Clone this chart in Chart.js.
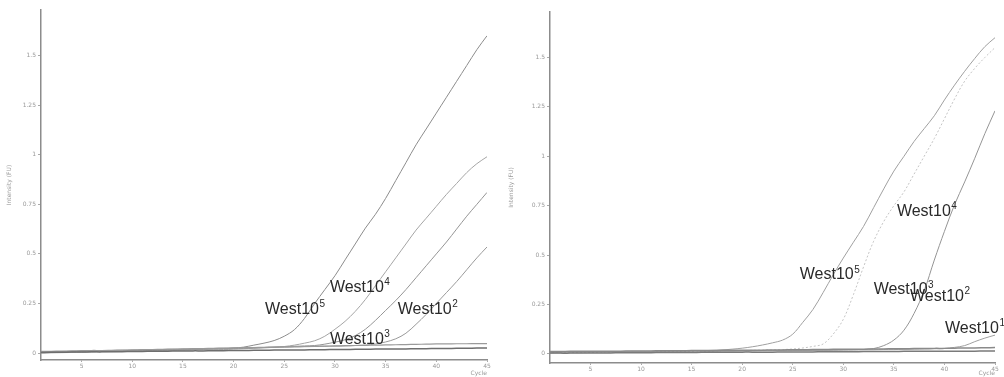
<!DOCTYPE html>
<html>
<head>
<meta charset="utf-8">
<script src="https://cdn.jsdelivr.net/npm/chart.js@4/dist/chart.umd.min.js"></script>
<style>
  html, body { margin: 0; padding: 0; background: #fff; }
  #wrap { position: relative; width: 1004px; height: 377px; overflow: hidden; }
  .panel { position: absolute; top: 0; width: 502px; height: 377px; }
</style>
</head>
<body>
<div id="wrap">
  <div class="panel" style="left:0"><canvas id="leftChart"></canvas></div>
  <div class="panel" style="left:502px"><canvas id="rightChart"></canvas></div>
</div>
<script>
const cycles = [1,2,3,4,5,6,7,8,9,10,11,12,13,14,15,16,17,18,19,20,21,22,23,24,25,26,27,28,29,30,31,32,33,34,35,36,37,38,39,40,41,42,43,44,45];
const xTicks = [5, 10, 15, 20, 25, 30, 35, 40, 45];
const yTicks = [0, 0.25, 0.5, 0.75, 1, 1.25, 1.5];

// left panel
const leftA = [0.002,0.003,0.004,0.005,0.006,0.007,0.008,0.009,0.010,0.011,0.012,0.013,0.014,0.015,0.016,0.017,0.018,0.020,0.022,0.025,0.030,
  0.040,0.050,0.063,0.085,0.118,0.175,0.25,0.32,0.39,0.47,0.55,0.63,0.70,0.78,0.87,0.96,1.05,1.13,1.21,1.29,1.37,1.45,1.53,1.60];
const leftB = [0.000,0.001,0.002,0.003,0.004,0.005,0.006,0.007,0.008,0.009,0.010,0.011,0.012,0.013,0.014,0.015,0.016,0.017,0.018,0.020,
  0.022,0.024,0.026,0.029,0.033,0.040,0.050,0.062,0.085,0.12,0.16,0.21,0.27,0.34,0.41,0.48,0.55,0.62,0.68,0.74,0.80,0.855,0.91,0.955,0.99];
const leftC = [0.004,0.005,0.006,0.007,0.008,0.009,0.010,0.011,0.012,0.013,0.014,0.015,0.016,0.017,0.018,0.019,0.020,0.021,0.022,0.023,0.024,0.026,0.028,0.030,0.032,0.034,0.036,
  0.038,0.045,0.055,0.067,0.088,0.12,0.165,0.215,0.265,0.32,0.38,0.44,0.50,0.56,0.625,0.69,0.75,0.81];
const leftD = [0.006,0.007,0.008,0.009,0.010,0.011,0.012,0.013,0.014,0.015,0.016,0.017,0.018,0.019,0.020,0.021,0.022,0.023,0.024,0.025,0.026,0.027,0.028,0.029,0.030,0.031,0.032,0.033,0.034,0.035,0.036,0.038,
  0.040,0.046,0.056,0.072,0.10,0.145,0.195,0.25,0.305,0.36,0.42,0.48,0.535];
const leftE = [0.008,0.009,0.010,0.011,0.012,0.013,0.013,0.014,0.015,0.016,0.017,0.018,0.019,0.020,0.021,0.022,0.023,0.024,0.025,0.026,
  0.027,0.028,0.029,0.030,0.031,0.032,0.033,0.034,0.035,0.036,0.037,0.038,0.039,0.040,0.041,0.042,0.043,0.044,0.045,0.046,0.046,0.047,0.047,0.048,0.048];
const leftF = [0.003,0.004,0.004,0.005,0.005,0.006,0.006,0.007,0.007,0.008,0.008,0.009,0.009,0.010,0.010,0.011,0.011,0.012,0.012,0.013,
  0.013,0.014,0.014,0.015,0.015,0.016,0.016,0.017,0.017,0.018,0.018,0.019,0.019,0.020,0.020,0.021,0.021,0.022,0.022,0.023,0.023,0.024,0.024,0.025,0.025];

// right panel
const rightA = [0.004,0.005,0.006,0.006,0.007,0.008,0.008,0.009,0.010,0.011,0.011,0.012,0.013,0.014,0.015,0.016,0.018,
  0.020,0.024,0.029,0.036,0.045,0.056,0.07,0.10,0.16,0.225,0.31,0.40,0.485,0.565,0.645,0.74,0.835,0.925,1.0,1.075,1.14,1.205,1.285,1.36,1.43,1.495,1.555,1.60];
const rightB = [0.006,0.006,0.007,0.007,0.008,0.008,0.009,0.009,0.010,0.010,0.011,0.011,0.012,0.012,0.013,0.013,0.014,0.015,0.016,0.017,0.018,0.019,0.020,0.022,0.025,0.030,0.038,
  0.05,0.10,0.175,0.30,0.44,0.57,0.67,0.75,0.82,0.91,1.00,1.09,1.19,1.29,1.38,1.445,1.50,1.55];
const rightC = [0.008,0.008,0.009,0.009,0.009,0.010,0.010,0.010,0.011,0.011,0.011,0.012,0.012,0.012,0.013,0.013,0.013,0.014,0.014,0.015,0.015,0.016,0.016,0.017,0.017,0.018,0.018,0.019,0.019,0.020,0.021,
  0.022,0.027,0.042,0.07,0.12,0.205,0.32,0.475,0.62,0.755,0.87,0.99,1.115,1.23];
const rightD = [0.010,0.010,0.011,0.011,0.011,0.012,0.012,0.012,0.013,0.013,0.013,0.014,0.014,0.014,0.015,0.015,0.015,0.016,0.016,0.016,
  0.017,0.017,0.017,0.018,0.018,0.018,0.019,0.019,0.019,0.020,0.020,0.021,0.021,0.022,0.022,0.023,0.024,0.025,0.026,
  0.028,0.033,0.042,0.062,0.08,0.095];
const rightE = [0.012,0.012,0.013,0.013,0.013,0.014,0.014,0.014,0.015,0.015,0.015,0.016,0.016,0.016,0.017,0.017,0.017,0.018,0.018,0.018,
  0.019,0.019,0.020,0.020,0.021,0.021,0.022,0.022,0.023,0.023,0.024,0.024,0.025,0.025,0.026,0.026,0.027,0.027,0.028,0.028,0.029,0.030,0.030,0.031,0.032];
const rightF = [0.004,0.004,0.004,0.005,0.005,0.005,0.005,0.006,0.006,0.006,0.006,0.007,0.007,0.007,0.007,0.008,0.008,0.008,0.008,0.009,
  0.009,0.009,0.009,0.010,0.010,0.010,0.010,0.011,0.011,0.011,0.011,0.012,0.012,0.012,0.012,0.013,0.013,0.013,0.013,0.014,0.014,0.014,0.014,0.015,0.015];

// curve labels: exponent, cycle, intensity
const leftLabels = [['5', 23.1, 0.22], ['4', 29.5, 0.33], ['2', 36.2, 0.22], ['3', 29.5, 0.07]];
const rightLabels = [['5', 25.7, 0.40], ['4', 35.3, 0.72], ['3', 33.0, 0.324], ['2', 36.6, 0.29], ['1', 40.05, 0.13]];

function makeSeries(values, color, width, dash) {
    return {
        data: values.map((v, i) => ({ x: cycles[i], y: v })),
        borderColor: color,
        borderWidth: width,
        borderDash: dash || [],
        pointRadius: 0,
        tension: 0.35,
        fill: false
    };
}

function labelPlugin(items) {
    return {
        id: 'westLabels',
        afterDatasetsDraw(chart) {
            const ctx = chart.ctx;
            const xs = chart.scales.x, ys = chart.scales.y;
            ctx.save();
            ctx.fillStyle = '#2a2a2a';
            ctx.textBaseline = 'middle';
            ctx.textAlign = 'left';
            items.forEach(([sup, cx, cy]) => {
                const px = xs.getPixelForValue(cx);
                const py = ys.getPixelForValue(cy);
                ctx.font = '16px "Liberation Sans", Arial, sans-serif';
                ctx.fillText('West10', px, py);
                const w = ctx.measureText('West10').width;
                ctx.font = '10px "Liberation Sans", Arial, sans-serif';
                ctx.fillText(sup, px + w + 0.5, py - 5);
            });
            ctx.restore();
        }
    };
}

function buildChart(id, datasets, labels, box) {
    const tickFont = { family: 'DejaVu Sans', size: 6 };
    return new Chart(document.getElementById(id), {
        type: 'line',
        data: { datasets: datasets },
        options: {
            responsive: true,
            maintainAspectRatio: false,
            animation: false,
            layout: { padding: { left: 0, right: box.right, top: box.top, bottom: 0 } },
            plugins: { legend: { display: false }, tooltip: { enabled: false } },
            scales: {
                x: {
                    type: 'linear',
                    min: 1,
                    max: 45,
                    afterBuildTicks: (s) => { s.ticks = xTicks.map(v => ({ value: v })); },
                    afterFit: (s) => { s.height = box.xHeight; },
                    grid: { drawOnChartArea: false, tickLength: 2, color: '#aaa' },
                    border: { color: '#8c8c8c', width: 1.5 },
                    ticks: { font: tickFont, color: '#999', padding: 1, maxRotation: 0, callback: (v) => String(v) },
                    title: { display: true, text: 'Cycle', align: 'end', font: { family: 'DejaVu Sans', size: 6 }, color: '#999', padding: 0 }
                },
                y: {
                    min: box.ymin,
                    max: 1.73,
                    afterBuildTicks: (s) => { s.ticks = yTicks.map(v => ({ value: v })); },
                    afterFit: (s) => { s.width = box.yWidth; },
                    grid: { drawOnChartArea: false, tickLength: 3, color: '#aaa' },
                    border: { color: '#8c8c8c', width: 1.5 },
                    ticks: { font: tickFont, color: '#999', padding: 2, callback: (v) => String(v) },
                    title: { display: true, text: 'Intensity (FU)', font: { family: 'DejaVu Sans', size: 6 }, color: '#999', padding: { top: 6, bottom: 0 } }
                }
            }
        },
        plugins: [labelPlugin(labels)]
    });
}

buildChart('leftChart', [
    makeSeries(leftF, '#6e6e6e', 1.5),
    makeSeries(leftE, '#9a9a9a', 1.2),
    makeSeries(leftD, '#999999', 1),
    makeSeries(leftC, '#959595', 1),
    makeSeries(leftB, '#a5a5a5', 1),
    makeSeries(leftA, '#8c8c8c', 1)
], leftLabels, { right: 15, top: 10, xHeight: 17, yWidth: 41, ymin: -0.035 });

buildChart('rightChart', [
    makeSeries(rightF, '#7a7a7a', 1.5),
    makeSeries(rightE, '#8a8a8a', 1.5),
    makeSeries(rightD, '#a0a0a0', 1),
    makeSeries(rightB, '#c4c4c4', 1, [2, 2]),
    makeSeries(rightC, '#959595', 1),
    makeSeries(rightA, '#a0a0a0', 1)
], rightLabels, { right: 9, top: 12, xHeight: 14, yWidth: 48, ymin: -0.046 });
</script>
</body>
</html>
